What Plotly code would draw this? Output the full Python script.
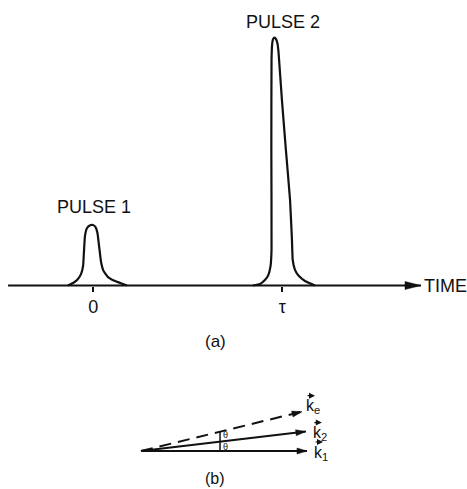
import math
import plotly.graph_objects as go

W, H = 467, 489

# ---------------- data: panel (a) ----------------
PULSE1_T = [-0.134, -0.107, -0.086, -0.065, -0.054, -0.049, -0.044, -0.033, -0.017,
            -0.002, 0.012, 0.022, 0.030, 0.041, 0.054, 0.078, 0.115, 0.178]
PULSE1_A = [0.0, 0.010, 0.022, 0.046, 0.079, 0.143, 0.200, 0.232, 0.243,
            0.244, 0.236, 0.212, 0.163, 0.095, 0.059, 0.034, 0.018, 0.0]
PULSE2_T = [0.845, 0.882, 0.908, 0.926, 0.938, 0.943, 0.942, 0.943, 0.946, 0.951,
            0.959, 0.967, 0.975, 0.980, 0.998, 1.019, 1.041, 1.051, 1.055, 1.067,
            1.088, 1.120, 1.173]
PULSE2_A = [0.0, 0.006, 0.022, 0.042, 0.079, 0.143, 0.547, 0.910, 0.971, 0.994,
            1.0, 0.994, 0.975, 0.942, 0.749, 0.547, 0.345, 0.184, 0.103, 0.063,
            0.038, 0.018, 0.0]
TICK_VALUES = [0, 1]
TICK_LABELS = ["0", "τ"]
AXIS_T = [-0.451, 1.734]
AXIS_LABEL = "TIME"
PULSE_LABELS = ["PULSE 1", "PULSE 2"]
PANEL_LABELS = ["(a)", "(b)"]

# ---------------- data: panel (b) ----------------
K_SUBS = ["1", "2", "e"]
K_X = [1.0, 0.993, 0.970]
K_Y = [0.0, 0.117, 0.237]
K_DASHED = [False, False, True]
THETA_X = 0.476          # where the angle bracket is drawn along the k1 axis
THETA_TEXT = "θ<br>θ"

# ---------------- layout (pixel mapping) ----------------
T0_PX, T_SCALE = 93.3, 189.0      # pixel of t=0, pixels per unit time
BASE_PY, A_SCALE = 285.5, 247.8   # pixel row of baseline, pixels per unit amplitude
ORIG_PX, ORIG_PY, K_SCALE = 141.0, 451.0, 166.0

FONT = "Liberation Sans, Arial, sans-serif"
BLACK = "#111111"


def paper(px, py):
    return px / W, 1 - py / H


def arrow_head(x, y, dx, dy, xref, yref, L, hw):
    n = math.hypot(dx, dy)
    ux, uy = dx / n, dy / n
    p1 = (-L * ux - hw * uy, -L * uy + hw * ux)
    p2 = (-L * ux + hw * uy, -L * uy - hw * ux)
    path = f"M0,0 L{p1[0]:.2f},{p1[1]:.2f} L{p2[0]:.2f},{p2[1]:.2f} Z"
    return dict(type="path", xref=xref, yref=yref, xsizemode="pixel", ysizemode="pixel",
                xanchor=x, yanchor=y, path=path, fillcolor=BLACK,
                line=dict(color=BLACK, width=0.5))


fig = go.Figure()

# panel (a): baseline and pulses
fig.add_trace(go.Scatter(x=AXIS_T, y=[0, 0], mode="lines",
                         line=dict(color=BLACK, width=2), xaxis="x", yaxis="y",
                         hoverinfo="skip"))
for T, A in [(PULSE1_T, PULSE1_A), (PULSE2_T, PULSE2_A)]:
    fig.add_trace(go.Scatter(x=T, y=A, mode="lines",
                             line=dict(color=BLACK, width=2.2, shape="spline", smoothing=0.35),
                             xaxis="x", yaxis="y"))

# panel (b): wave vectors
for kx, ky, dashed in zip(K_X, K_Y, K_DASHED):
    fig.add_trace(go.Scatter(x=[0, kx], y=[0, ky], mode="lines",
                             line=dict(color=BLACK, width=2,
                                       dash="12px,7px" if dashed else "solid"),
                             xaxis="x2", yaxis="y2"))

shapes = [arrow_head(AXIS_T[1], 0, 1, 0, "x", "y", 16, 4)]
for kx, ky in zip(K_X, K_Y):
    shapes.append(arrow_head(kx, ky, kx, ky, "x2", "y2", 10, 3))
# angle bracket between k1 and ke
shapes.append(dict(type="line", xref="x2", yref="y2", x0=THETA_X, x1=THETA_X, y0=0,
                   y1=THETA_X * K_Y[2] / K_X[2], line=dict(color=BLACK, width=1.5)))

ann = []


def text(px, py, s, size, xanchor="center", yanchor="middle", **kw):
    x, y = paper(px, py)
    ann.append(dict(x=x, y=y, xref="paper", yref="paper", text=s, showarrow=False,
                    xanchor=xanchor, yanchor=yanchor,
                    font=dict(family=FONT, size=size, color=BLACK), **kw))


text(93.5, 207.5, PULSE_LABELS[0], 18)
text(282.5, 22.5, PULSE_LABELS[1], 18)
text(445, 285.5, AXIS_LABEL, 18)
text(215, 341.5, PANEL_LABELS[0], 17)
text(215, 478.5, PANEL_LABELS[1], 16)

# k labels with vector arrows
for kx, ky, sub in zip(K_X, K_Y, K_SUBS):
    tip_px = ORIG_PX + kx * K_SCALE
    tip_py = ORIG_PY - ky * K_SCALE
    lx = tip_px + 2 if sub == "e" else tip_px + 5
    ly = tip_py - 5 if sub == "e" else tip_py + 2
    text(lx, ly, f"k<sub>{sub}</sub>", 16, xanchor="left")
    ax, ay = paper(lx + 11, ly - 11)
    ann.append(dict(x=ax, y=ay, xref="paper", yref="paper", text="", showarrow=True,
                    ax=-9, ay=0, arrowhead=2, arrowwidth=1.2, arrowsize=1,
                    arrowcolor=BLACK))

# theta labels
bx = ORIG_PX + THETA_X * K_SCALE
text(bx + 5, 441, THETA_TEXT, 9)

fig.update_layout(
    width=W, height=H, margin=dict(l=0, r=0, t=0, b=0),
    paper_bgcolor="white", plot_bgcolor="rgba(0,0,0,0)", showlegend=False,
    xaxis=dict(domain=[0, 1], range=[-T0_PX / T_SCALE, (W - T0_PX) / T_SCALE],
               anchor="free", position=(H - BASE_PY) / H,
               showline=False, showgrid=False, zeroline=False,
               tickvals=TICK_VALUES, ticktext=TICK_LABELS, ticks="outside",
               ticklen=5, tickwidth=1.5, tickcolor=BLACK,
               tickfont=dict(family=FONT, size=18, color=BLACK)),
    yaxis=dict(domain=[0, 1], range=[-(H - BASE_PY) / A_SCALE, BASE_PY / A_SCALE],
               visible=False),
    xaxis2=dict(domain=[0, 1], range=[-ORIG_PX / K_SCALE, (W - ORIG_PX) / K_SCALE],
                anchor="y2", visible=False),
    yaxis2=dict(domain=[0, 1], range=[-(H - ORIG_PY) / K_SCALE, ORIG_PY / K_SCALE],
                anchor="x2", visible=False),
    shapes=shapes, annotations=ann,
)

fig.write_html("out.html")
